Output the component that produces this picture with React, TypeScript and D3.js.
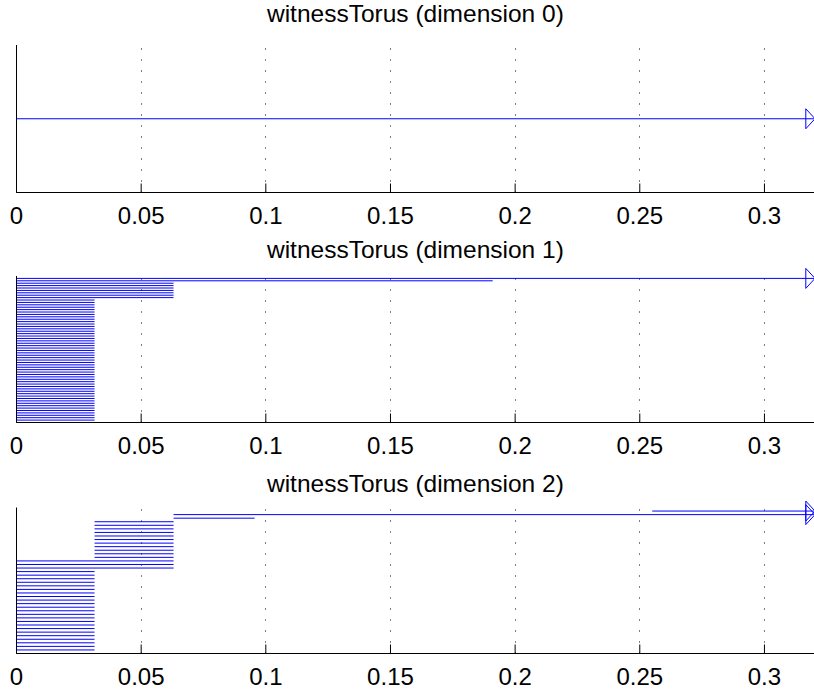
import React, { useRef, useEffect } from 'react';
import * as d3 from 'd3';

const TITLES = [
  'witnessTorus (dimension 0)',
  'witnessTorus (dimension 1)',
  'witnessTorus (dimension 2)',
];
const X_TICKS = [0, 0.05, 0.1, 0.15, 0.2, 0.25, 0.3];
const X_MAX = 0.32;

// barcode intervals [birth, death], listed from the bottom bar up
const dim0Intervals = [[0, Infinity]];

const dim1Intervals = [
  [0, 0.0313], [0, 0.0313], [0, 0.0313], [0, 0.0313], [0, 0.0313], [0, 0.0313],
  [0, 0.0313], [0, 0.0313], [0, 0.0313], [0, 0.0313], [0, 0.0313], [0, 0.0313],
  [0, 0.0313], [0, 0.0313], [0, 0.0313], [0, 0.0313], [0, 0.0313], [0, 0.0313],
  [0, 0.0313], [0, 0.0313], [0, 0.0313], [0, 0.0313], [0, 0.0313], [0, 0.0313],
  [0, 0.0313], [0, 0.0313], [0, 0.0313], [0, 0.0313], [0, 0.0313], [0, 0.0313],
  [0, 0.0313], [0, 0.0313], [0, 0.0313], [0, 0.0313], [0, 0.0313], [0, 0.0313],
  [0, 0.0313], [0, 0.0313], [0, 0.0313], [0, 0.0313], [0, 0.0313], [0, 0.0313],
  [0, 0.0313], [0, 0.0313], [0, 0.0313], [0, 0.0313], [0, 0.0313], [0, 0.0313],
  [0, 0.0313], [0, 0.0313], [0, 0.0313],
  [0, 0.063], [0, 0.063], [0, 0.063], [0, 0.063], [0, 0.063], [0, 0.063], [0, 0.063],
  [0, 0.191],
  [0, Infinity],
];

const dim2Intervals = [
  [0, 0.0313], [0, 0.0313], [0, 0.0313], [0, 0.0313], [0, 0.0313], [0, 0.0313],
  [0, 0.0313], [0, 0.0313], [0, 0.0313], [0, 0.0313], [0, 0.0313], [0, 0.0313],
  [0, 0.0313], [0, 0.0313], [0, 0.0313], [0, 0.0313], [0, 0.0313], [0, 0.0313],
  [0, 0.0313], [0, 0.0313], [0, 0.0313], [0, 0.0313], [0, 0.0313],
  [0, 0.063], [0, 0.063], [0, 0.063],
  [0.0313, 0.063], [0.0313, 0.063], [0.0313, 0.063], [0.0313, 0.063],
  [0.0313, 0.063], [0.0313, 0.063], [0.0313, 0.063], [0.0313, 0.063],
  [0.0313, 0.063], [0.0313, 0.063], [0.0313, 0.063],
  [0.063, 0.0955],
  [0.063, Infinity],
  [0.255, Infinity],
];

const FONT = '"Liberation Sans", Arial, Helvetica, sans-serif';

function Barcode({ title, intervals, top, bottom, titleY }) {
  const ref = useRef(null);

  useEffect(() => {
    const g = d3.select(ref.current);
    g.selectAll('*').remove();

    const x = d3.scaleLinear().domain([0, X_MAX]).range([16.5, 814.3]);
    const y = d3.scaleLinear()
      .domain([0, intervals.length + 1])
      .range([bottom, top]);

    // dotted vertical grid
    g.append('g')
      .selectAll('line')
      .data(X_TICKS)
      .join('line')
      .attr('x1', d => Math.floor(x(d)) + 0.5)
      .attr('x2', d => Math.floor(x(d)) + 0.5)
      .attr('y1', bottom)
      .attr('y2', top)
      .attr('stroke', '#000')
      .attr('stroke-width', 1)
      .attr('stroke-dasharray', '1,10');

    // bars
    const xEnd = x.range()[1];
    g.append('g')
      .selectAll('line')
      .data(intervals)
      .join('line')
      .attr('x1', d => x(d[0]))
      .attr('x2', d => (isFinite(d[1]) ? x(d[1]) : xEnd))
      .attr('y1', (d, i) => y(i + 1))
      .attr('y2', (d, i) => y(i + 1))
      .attr('stroke', '#0000ff')
      .attr('stroke-width', 1);

    // open triangles on the infinite bars
    g.append('g')
      .selectAll('path')
      .data(intervals.map((d, i) => ({ d, i })).filter(o => !isFinite(o.d[1])))
      .join('path')
      .attr('d', o => {
        const cy = y(o.i + 1);
        return `M${xEnd - 8.5},${cy - 10}L${xEnd + 0.7},${cy}L${xEnd - 8.5},${cy + 10}Z`;
      })
      .attr('fill', 'none')
      .attr('stroke', '#0000ff')
      .attr('stroke-width', 1);

    // left axis line
    g.append('line')
      .attr('x1', 16.5).attr('x2', 16.5)
      .attr('y1', top).attr('y2', bottom)
      .attr('stroke', '#000');

    // bottom axis, ticks pointing inward
    const axis = g.append('g')
      .attr('transform', `translate(0, ${bottom})`)
      .call(d3.axisBottom(x)
        .tickValues(X_TICKS)
        .tickFormat(d => String(d))
        .tickSizeInner(-9)
        .tickSizeOuter(0)
        .offset(0));
    axis.select('.domain').attr('stroke', '#000');
    axis.selectAll('.tick line').attr('stroke', '#000');
    axis.selectAll('.tick text')
      .attr('y', 31)
      .attr('dy', 0)
      .attr('fill', '#000')
      .attr('font-size', 24)
      .attr('font-family', FONT);

    g.append('text')
      .attr('x', (x.range()[0] + x.range()[1]) / 2)
      .attr('y', titleY)
      .attr('text-anchor', 'middle')
      .attr('font-size', 24.5)
      .attr('font-family', FONT)
      .attr('fill', '#000')
      .text(title);
  }, [title, intervals, top, bottom, titleY]);

  return <g ref={ref} />;
}

export default function App() {
  return (
    <svg
      width={814}
      height={693}
      style={{ position: 'absolute', left: 0, top: 0, background: '#fff' }}
    >
      <Barcode title={TITLES[0]} intervals={dim0Intervals} top={45} bottom={192.5} titleY={22} />
      <Barcode title={TITLES[1]} intervals={dim1Intervals} top={276} bottom={422.5} titleY={258} />
      <Barcode title={TITLES[2]} intervals={dim2Intervals} top={507.5} bottom={653.5} titleY={492} />
    </svg>
  );
}
